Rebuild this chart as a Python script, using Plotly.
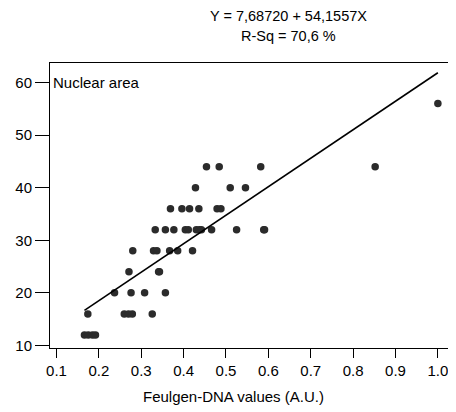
import plotly.graph_objects as go

# Data (Feulgen-DNA values vs nuclear area)
dna_values = [
    0.166, 0.175, 0.185, 0.192,
    0.174, 0.260, 0.270, 0.279, 0.326,
    0.237, 0.276, 0.308, 0.357,
    0.271, 0.341, 0.343,
    0.280, 0.329, 0.337, 0.367, 0.386, 0.421,
    0.333, 0.357, 0.377, 0.404, 0.411, 0.430, 0.437, 0.442, 0.466, 0.525, 0.589, 0.591,
    0.369, 0.396, 0.414, 0.436, 0.479, 0.488,
    0.428, 0.510, 0.546,
    0.454, 0.484, 0.582, 0.852,
    1.000,
]
nuclear_area = [
    12, 12, 12, 12,
    16, 16, 16, 16, 16,
    20, 20, 20, 20,
    24, 24, 24,
    28, 28, 28, 28, 28, 28,
    32, 32, 32, 32, 32, 32, 32, 32, 32, 32, 32, 32,
    36, 36, 36, 36, 36, 36,
    40, 40, 40,
    44, 44, 44, 44,
    56,
]
intercept = 7.68720
slope = 54.1557
x_ticks = [0.1, 0.2, 0.3, 0.4, 0.5, 0.6, 0.7, 0.8, 0.9, 1.0]
x_tick_labels = ["0.1", "0.2", "0.3", "0.4", "0.5", "0.6", "0.7", "0.8", "0.9", "1.0"]
y_ticks = [10, 20, 30, 40, 50, 60]

fit_x = [min(dna_values), max(dna_values)]
fit_y = [intercept + slope * v for v in fit_x]

fig = go.Figure()
fig.add_trace(go.Scatter(
    x=dna_values, y=nuclear_area, mode="markers",
    marker=dict(size=7.5, color="#2b2b2b", line=dict(width=0)),
    showlegend=False, hoverinfo="skip", cliponaxis=False,
))
fig.add_trace(go.Scatter(
    x=fit_x, y=fit_y, mode="lines",
    line=dict(color="black", width=1.6),
    showlegend=False, hoverinfo="skip",
))

fam = "Liberation Sans, Arial, sans-serif"
font = dict(family=fam, size=15, color="black")
head_font = dict(family=fam, size=14.5, color="black")

# The page body has an 8px default margin, so the figure is sized and offset to compensate.
fig.update_layout(
    width=448, height=404,
    margin=dict(l=42, r=5, t=55, b=64),
    paper_bgcolor="white", plot_bgcolor="white",
    font=font,
    xaxis=dict(
        range=[0.0847, 1.031], tickvals=x_ticks, ticktext=x_tick_labels,
        showgrid=False, zeroline=False, automargin=False,
        showline=True, linecolor="black", linewidth=1, mirror=True,
        ticks="outside", ticklen=9, tickwidth=1, tickcolor="black",
        tickfont=font,
    ),
    yaxis=dict(
        range=[9.52, 63.7], tickvals=y_ticks,
        showgrid=False, zeroline=False, automargin=False,
        showline=True, linecolor="black", linewidth=1, mirror=True,
        ticks="outside", ticklen=14, tickwidth=1, tickcolor="black",
        tickfont=font,
    ),
    annotations=[
        dict(text="Y = 7,68720 + 54,1557X", xref="paper", yref="paper",
             x=(288 - 50) / 401, y=(348 - 16) / 285, xanchor="center", yanchor="middle",
             showarrow=False, font=head_font),
        dict(text="R-Sq = 70,6 %", xref="paper", yref="paper",
             x=(288 - 50) / 401, y=(348 - 36) / 285, xanchor="center", yanchor="middle",
             showarrow=False, font=head_font),
        dict(text="Nuclear area", xref="paper", yref="paper",
             x=0.002, y=(348 - 82) / 285, xanchor="left", yanchor="middle",
             showarrow=False, font=font),
        dict(text="Feulgen-DNA values (A.U.)", xref="paper", yref="paper",
             x=(233 - 50) / 401, y=(348 - 396) / 285, xanchor="center", yanchor="middle",
             showarrow=False, font=font),
    ],
)

fig.write_html("out.html")
